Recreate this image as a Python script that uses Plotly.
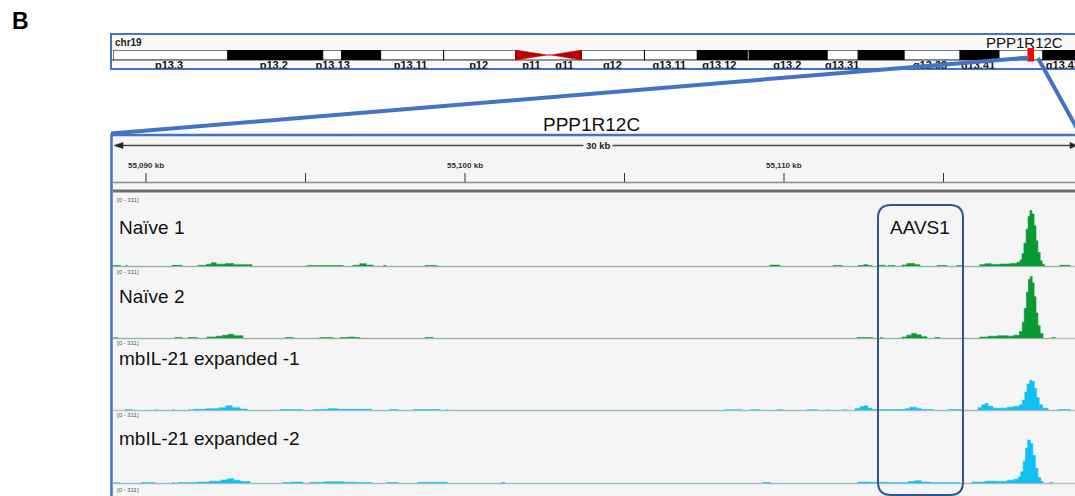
import plotly.graph_objects as go

W, H = 1075, 496

# ---------------- data ----------------
# chr19 cytobands (Mb)
BAND_START = [0.00, 7.06, 12.89, 14.06, 16.45, 20.32, 28.79, 32.66, 35.91, 38.98, 39.10, 43.89, 45.80, 48.62, 52.06, 54.45, 57.15]
BAND_END = [7.06, 12.89, 14.06, 16.45, 20.32, 24.74, 32.66, 35.91, 38.98, 39.10, 43.89, 45.80, 48.62, 52.06, 54.45, 57.15, 59.12]
BAND_STAIN = ["gneg", "gpos", "gneg", "gpos", "gneg", "gneg", "gneg", "gneg", "gpos", "gneg", "gpos", "gneg", "gpos", "gneg", "gpos", "gneg", "gpos"]
CEN_P = [24.74, 26.70]
CEN_Q = [26.90, 28.79]
BAND_LABEL = ["p13.3", "p13.2", "p13.13", "p13.11", "p12", "p11", "q11", "q12", "q13.11", "q13.12",
              "q13.2", "q13.31", "q13.33", "q13.41", "q13.43"]
BAND_LABEL_MB = [3.44, 9.88, 13.5, 18.29, 22.47, 25.72, 27.75, 30.69, 34.19, 37.26,
                 41.44, 44.81, 50.21, 53.16, 58.38]
GENE_MARK_MB = [56.20, 56.60]

# genomic window (kb)
VIEW_KB = [55088.934, 55119.122]
TICK_KB = [55090, 55095, 55100, 55105, 55110, 55115]
TICK_LABEL_KB = [55090, 55100, 55110]
TICK_LABELS = ["55,090 kb", "55,100 kb", "55,110 kb"]
DATA_RANGE = [0, 311]

TRACK_NAMES = ["Naïve 1", "Naïve 2", "mbIL-21 expanded -1", "mbIL-21 expanded -2"]

NAIVE1_KB = [55088.95, 55089.20, 55089.35, 55089.42, 55090.82, 55091.13, 55091.63, 55091.90, 55092.05, 55092.20,
             55092.50, 55092.75, 55093.32, 55095.05, 55096.18, 55096.49, 55096.70, 55096.90, 55097.12, 55097.45,
             55097.52, 55098.75, 55099.12, 55109.56, 55109.87, 55111.54, 55111.82, 55112.32, 55112.50, 55112.62,
             55112.76, 55112.95, 55113.17, 55113.26, 55113.48, 55113.70, 55113.85, 55114.10, 55114.26, 55114.80,
             55115.11, 55115.42, 55115.58, 55116.14, 55116.30, 55116.50, 55116.80, 55117.10, 55117.30, 55117.40,
             55117.46, 55117.52, 55117.59, 55117.65, 55117.71, 55117.77, 55117.84, 55117.90, 55117.96, 55118.03,
             55118.09, 55118.16, 55118.65, 55118.97]
NAIVE1_VAL = [4, 0, 3, 0, 5, 0, 5, 10, 16, 10,
              13, 8, 0, 4, 0, 5, 12, 6, 0, 4,
              0, 4, 0, 6, 0, 4, 0, 4, 8, 4,
              0, 5, 0, 4, 0, 6, 13, 8, 0, 4,
              0, 4, 0, 8, 12, 9, 11, 13, 18, 28,
              55, 100, 160, 215, 240, 225, 175, 110, 60, 25,
              10, 0, 5, 0]

NAIVE2_KB = [55088.97, 55089.12, 55090.91, 55091.13, 55091.32, 55091.60, 55091.91, 55092.20, 55092.40, 55092.57,
             55092.75, 55093.04, 55094.36, 55094.61, 55095.45, 55095.86, 55096.08, 55096.35, 55096.55, 55096.71,
             55098.75, 55099.00, 55112.29, 55112.79, 55113.01, 55113.10, 55113.70, 55113.85, 55114.00, 55114.15,
             55114.30, 55114.48, 55114.73, 55114.89, 55116.14, 55116.40, 55116.70, 55117.00, 55117.20, 55117.38,
             55117.47, 55117.53, 55117.60, 55117.66, 55117.72, 55117.78, 55117.84, 55117.90, 55117.96, 55118.03,
             55118.12, 55118.40, 55118.50]
NAIVE2_VAL = [3, 0, 4, 0, 4, 0, 6, 10, 14, 18,
              12, 0, 4, 0, 4, 0, 4, 6, 4, 0,
              4, 0, 4, 0, 3, 0, 6, 14, 22, 16,
              8, 0, 4, 0, 6, 10, 12, 10, 14, 30,
              70, 130, 200, 255, 268, 240, 180, 110, 55, 22,
              0, 4, 0]

MBIL1_KB = [55089.34, 55089.56, 55090.28, 55090.38, 55090.82, 55090.91, 55091.32, 55091.42, 55091.47, 55091.90,
            55092.30, 55092.50, 55092.70, 55092.95, 55093.17, 55094.20, 55094.92, 55095.24, 55095.70, 55096.00,
            55097.08, 55097.65, 55097.90, 55098.37, 55099.22, 55099.40, 55099.47,
            55108.15, 55108.68, 55108.93, 55109.25, 55109.78, 55109.97, 55110.72, 55111.07, 55111.36, 55111.44,
            55111.85, 55111.97, 55112.23, 55112.38, 55112.50, 55112.62, 55112.76, 55113.80, 55113.95, 55114.15,
            55114.30, 55114.67, 55115.14, 55115.61, 55116.08, 55116.20, 55116.30, 55116.40, 55116.55, 55116.80,
            55117.00, 55117.20, 55117.38, 55117.47, 55117.55, 55117.62, 55117.70, 55117.78, 55117.85, 55117.92,
            55118.00, 55118.10, 55118.28, 55118.59, 55118.97]
MBIL1_VAL = [4, 0, 3, 0, 3, 0, 3, 0, 5, 8,
             12, 20, 12, 6, 0, 4, 0, 4, 8, 5,
             0, 4, 0, 4, 0, 3, 0,
             3, 0, 3, 0, 3, 0, 3, 0, 3, 0,
             3, 0, 8, 16, 20, 10, 4, 8, 14, 8,
             4, 0, 4, 0, 12, 24, 30, 18, 10, 10,
             14, 18, 25, 45, 80, 115, 130, 125, 95, 55,
             25, 10, 0, 4, 0]

MBIL2_KB = [55088.97, 55089.18, 55089.87, 55090.28, 55090.82, 55090.91, 55091.00, 55091.60, 55092.00, 55092.35,
            55092.55, 55092.75, 55092.95, 55093.26, 55094.29, 55094.55, 55094.92, 55095.14, 55095.60, 55096.20,
            55096.60, 55097.08, 55097.55, 55097.90, 55098.53, 55099.44, 55101.16, 55101.25, 55109.34, 55109.56,
            55112.32, 55112.70, 55113.20, 55113.90, 55114.10, 55114.30, 55114.60, 55115.52, 55115.89, 55116.30,
            55116.70, 55117.00, 55117.20, 55117.35, 55117.42, 55117.50, 55117.57, 55117.64, 55117.72, 55117.80,
            55117.88, 55117.96, 55118.05, 55118.12, 55118.34, 55118.43, 55118.65, 55118.97]
MBIL2_VAL = [3, 0, 4, 0, 3, 0, 4, 6, 10, 15,
             20, 14, 8, 0, 4, 6, 0, 5, 7, 5,
             4, 0, 4, 0, 5, 0, 4, 0, 4, 0,
             6, 5, 4, 8, 12, 6, 4, 0, 6, 10,
             9, 14, 18, 28, 50, 95, 150, 185, 170, 120,
             65, 25, 10, 0, 4, 0]

TRACK_KB = [NAIVE1_KB, NAIVE2_KB, MBIL1_KB, MBIL2_KB]
TRACK_VAL = [NAIVE1_VAL, NAIVE2_VAL, MBIL1_VAL, MBIL2_VAL]
TRACK_COLOR = ["#0a9a35", "#0a9a35", "#10c0f2", "#10c0f2"]

# ---------------- layout helpers (pixel -> paper) ----------------
def fx(x):
    return x / W


def fy(y):
    return 1 - y / H


def ydom(top, bottom):
    return [1 - bottom / H, 1 - top / H]


BLUE = "#4472c4"
DARKBLUE = "#2f5597"
FONT = "Liberation Sans, Arial, sans-serif"
PANEL_L = 112

# track pixel bands (top, baseline)
TRACK_PX = [(194, 266.5), (266.5, 338.5), (338.5, 410.5), (410.5, 483.5)]

fig = go.Figure()
layout_axes = {}

for i in range(4):
    sfx = "" if i == 0 else str(i + 1)
    xa, ya = "x" + sfx, "y" + sfx
    fig.add_trace(go.Scatter(
        x=TRACK_KB[i], y=TRACK_VAL[i], mode="lines",
        line=dict(shape="hv", width=0.6, color=TRACK_COLOR[i]),
        fill="tozeroy", fillcolor=TRACK_COLOR[i],
        xaxis=xa, yaxis=ya, hoverinfo="skip", showlegend=False))
    layout_axes["xaxis" + sfx] = dict(domain=[PANEL_L / W, 1], range=VIEW_KB, visible=False,
                                      anchor=ya, fixedrange=True)
    layout_axes["yaxis" + sfx] = dict(domain=ydom(*TRACK_PX[i]), range=DATA_RANGE, visible=False,
                                      anchor=xa, fixedrange=True)

# ideogram bands
band_colors = ["black" if s == "gpos" else "white" for s in BAND_STAIN]
fig.add_trace(go.Bar(
    y=[0] * len(BAND_START), x=[e - s for s, e in zip(BAND_START, BAND_END)], base=BAND_START,
    orientation="h", width=1, marker=dict(color=band_colors, line=dict(color="black", width=1)),
    xaxis="x5", yaxis="y5", hoverinfo="skip", showlegend=False))
CEN_COLOR = "#b80000"
fig.add_trace(go.Scatter(
    x=[CEN_P[0], CEN_P[0], CEN_P[1], CEN_P[0]], y=[-0.5, 0.5, 0.0, -0.5], mode="lines",
    fill="toself", fillcolor=CEN_COLOR, line=dict(color=CEN_COLOR, width=0.5),
    xaxis="x5", yaxis="y5", hoverinfo="skip", showlegend=False))
fig.add_trace(go.Scatter(
    x=[CEN_Q[1], CEN_Q[1], CEN_Q[0], CEN_Q[1]], y=[-0.5, 0.5, 0.0, -0.5], mode="lines",
    fill="toself", fillcolor=CEN_COLOR, line=dict(color=CEN_COLOR, width=0.5),
    xaxis="x5", yaxis="y5", hoverinfo="skip", showlegend=False))
fig.add_trace(go.Scatter(
    x=[CEN_P[1], CEN_Q[0]], y=[0, 0], mode="lines", line=dict(color=CEN_COLOR, width=1),
    xaxis="x5", yaxis="y5", hoverinfo="skip", showlegend=False))
layout_axes["xaxis5"] = dict(domain=[113 / W, 1], range=[0, 59.12], visible=False, anchor="y5", fixedrange=True)
layout_axes["yaxis5"] = dict(domain=ydom(50, 60), range=[-0.5, 0.5], visible=False, anchor="x5", fixedrange=True)

# band labels (clipped at the bottom like the original)
fig.add_trace(go.Scatter(
    x=BAND_LABEL_MB, y=[0.3] * len(BAND_LABEL_MB), mode="text", text=BAND_LABEL,
    textfont=dict(family=FONT, size=11, color="#111", weight="bold"), textposition="middle center",
    cliponaxis=True, xaxis="x6", yaxis="y6", hoverinfo="skip", showlegend=False))
layout_axes["xaxis6"] = dict(domain=[113 / W, 1], range=[0, 59.12], visible=False, anchor="y6", fixedrange=True)
layout_axes["yaxis6"] = dict(domain=ydom(60.5, 68.5), range=[0, 1], visible=False, anchor="x6", fixedrange=True)

shapes = []
annotations = []

# ideogram frame
shapes.append(dict(type="rect", xref="paper", yref="paper", x0=fx(111), x1=fx(1090), y0=fy(34), y1=fy(69),
                   fillcolor="#f8f8f8", line=dict(color=BLUE, width=2), layer="below"))
shapes.append(dict(type="line", xref="paper", yref="paper", x0=fx(112), x1=fx(1090), y0=fy(60), y1=fy(60),
                   line=dict(color="#333", width=1), layer="below"))
# gene marker on ideogram
shapes.append(dict(type="rect", xref="x5", yref="paper", x0=GENE_MARK_MB[0], x1=GENE_MARK_MB[1],
                   y0=fy(48), y1=fy(61.5), fillcolor="#ff0000", line=dict(width=0), layer="above"))

# panel
shapes.append(dict(type="rect", xref="paper", yref="paper", x0=fx(111.5), x1=fx(1090), y0=fy(135), y1=fy(510),
                   fillcolor="#f5f5f5", line=dict(color=BLUE, width=2.5), layer="below"))

# ruler: span line with arrows
shapes.append(dict(type="line", xref="paper", yref="paper", x0=fx(118), x1=fx(1073), y0=fy(145.5), y1=fy(145.5),
                   line=dict(color="#4a4a4a", width=1.3), layer="below"))


def pth(points):
    s = "M " + " L ".join(f"{fx(x):.5f},{fy(y):.5f}" for x, y in points) + " Z"
    return s


shapes.append(dict(type="path", xref="paper", yref="paper", path=pth([(114, 145.5), (123, 142.5), (123, 148.5)]),
                   fillcolor="#222", line=dict(color="#222", width=0.5)))
shapes.append(dict(type="path", xref="paper", yref="paper", path=pth([(1077, 145.5), (1070, 142.5), (1070, 148.5)]),
                   fillcolor="#222", line=dict(color="#222", width=0.5)))
annotations.append(dict(x=fx(598), y=fy(145.5), xref="paper", yref="paper", text="<b>30 kb</b>", showarrow=False,
                        font=dict(family=FONT, size=9.5, color="#222"), bgcolor="#f5f5f5", borderpad=2,
                        xanchor="center", yanchor="middle"))
for t in TICK_KB:
    shapes.append(dict(type="line", xref="x", yref="paper", x0=t, x1=t, y0=fy(173), y1=fy(182),
                       line=dict(color="#333", width=1)))
for t, lab in zip(TICK_LABEL_KB, TICK_LABELS):
    annotations.append(dict(x=t, y=fy(165.5), xref="x", yref="paper", text=f"<b>{lab}</b>", showarrow=False,
                            font=dict(family=FONT, size=8, color="#333"), xanchor="center", yanchor="middle"))
shapes.append(dict(type="line", xref="paper", yref="paper", x0=fx(113), x1=fx(1090), y0=fy(182.5), y1=fy(182.5),
                   line=dict(color="#8a8a8a", width=1.5)))
shapes.append(dict(type="line", xref="paper", yref="paper", x0=fx(113), x1=fx(1090), y0=fy(191), y1=fy(191),
                   line=dict(color="#6e6e6e", width=3)))

# track separators and data range labels
for (top, base) in TRACK_PX:
    shapes.append(dict(type="line", xref="paper", yref="paper", x0=fx(113), x1=fx(1090), y0=fy(base), y1=fy(base),
                       line=dict(color="#c4c4c4", width=1.5), layer="below"))
for yy in [199.5, 271.5, 343, 415, 490]:
    annotations.append(dict(x=fx(115), y=fy(yy), xref="paper", yref="paper",
                            text=f"[{DATA_RANGE[0]} - {DATA_RANGE[1]}]", showarrow=False,
                            font=dict(family=FONT, size=6, color="#555"), xanchor="left", yanchor="middle"))
for name, yy in zip(TRACK_NAMES, [227.5, 296, 358, 438]):
    annotations.append(dict(x=fx(116.5), y=fy(yy), xref="paper", yref="paper", text=name, showarrow=False,
                            font=dict(family=FONT, size=19, color="#111"), xanchor="left", yanchor="middle"))

# AAVS1 rounded box
L, R = 878, 963
T, B, r = 205, 495, 13
rb = (f"M {fx(L):.5f},{fy(T + r):.5f} Q {fx(L):.5f},{fy(T):.5f} {fx(L + r):.5f},{fy(T):.5f} "
      f"L {fx(R - r):.5f},{fy(T):.5f} Q {fx(R):.5f},{fy(T):.5f} {fx(R):.5f},{fy(T + r):.5f} "
      f"L {fx(R):.5f},{fy(B - r):.5f} Q {fx(R):.5f},{fy(B):.5f} {fx(R - r):.5f},{fy(B):.5f} "
      f"L {fx(L + r):.5f},{fy(B):.5f} Q {fx(L):.5f},{fy(B):.5f} {fx(L):.5f},{fy(B - r):.5f} Z")
shapes.append(dict(type="path", xref="paper", yref="paper", path=rb, line=dict(color=DARKBLUE, width=2),
                   layer="above"))
annotations.append(dict(x=fx(919.5), y=fy(227.5), xref="paper", yref="paper", text="AAVS1", showarrow=False,
                        font=dict(family=FONT, size=19, color="#111"), xanchor="center", yanchor="middle"))

# zoom connector lines
shapes.append(dict(type="line", xref="paper", yref="paper", x0=fx(1029), y0=fy(57.5), x1=fx(111), y1=fy(133.5),
                   line=dict(color=BLUE, width=4), layer="above"))
shapes.append(dict(type="line", xref="paper", yref="paper", x0=fx(1038), y0=fy(58), x1=fx(1080), y1=fy(134),
                   line=dict(color=BLUE, width=4), layer="above"))

# titles
annotations.append(dict(x=fx(1024), y=fy(43), xref="paper", yref="paper", text="PPP1R12C", showarrow=False,
                        font=dict(family=FONT, size=15, color="#111"), xanchor="center", yanchor="middle"))
annotations.append(dict(x=fx(113), y=fy(42.5), xref="paper", yref="paper", text="<b>chr19</b>", showarrow=False,
                        font=dict(family=FONT, size=10, color="#222"), xanchor="left", yanchor="middle"))
annotations.append(dict(x=fx(591), y=fy(125), xref="paper", yref="paper", text="PPP1R12C", showarrow=False,
                        font=dict(family=FONT, size=19, color="#111"), xanchor="center", yanchor="middle"))
annotations.append(dict(x=fx(20), y=fy(21), xref="paper", yref="paper", text="<b>B</b>", showarrow=False,
                        font=dict(family=FONT, size=23, color="#000"), xanchor="center", yanchor="middle"))

fig.update_layout(
    width=W, height=H, margin=dict(l=0, r=0, t=0, b=0),
    paper_bgcolor="white", plot_bgcolor="rgba(0,0,0,0)",
    showlegend=False, barmode="overlay",
    shapes=shapes, annotations=annotations,
    **layout_axes,
)

fig.write_html("out.html",
               config={"displayModeBar": False, "staticPlot": True},
               post_script="document.body.style.margin='0';document.body.style.padding='0';"
                           "document.body.style.overflow='hidden';")
